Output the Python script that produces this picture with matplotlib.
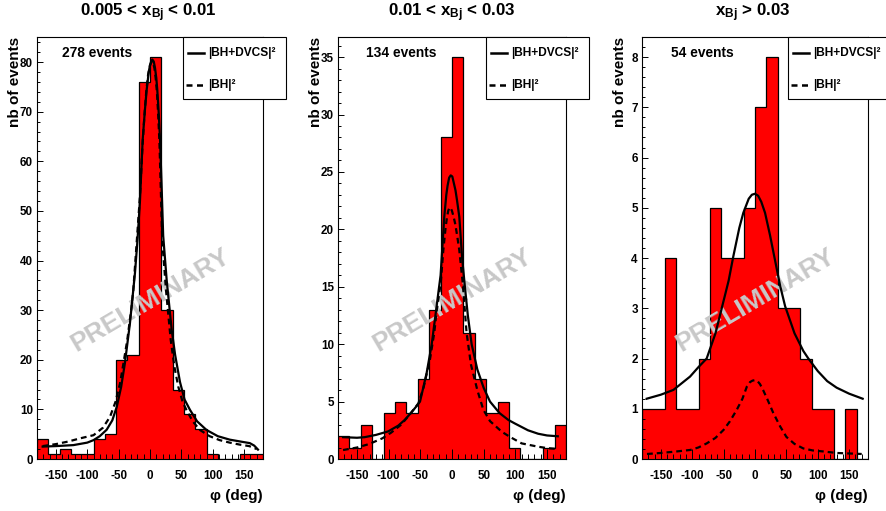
import numpy as np
import matplotlib
matplotlib.use("Agg")
import matplotlib.pyplot as plt
from matplotlib.patches import Rectangle
from matplotlib.lines import Line2D

plt.rcParams['font.family'] = ['Liberation Sans', 'DejaVu Sans']
plt.rcParams['font.weight'] = 'bold'
plt.rcParams['axes.unicode_minus'] = False
plt.rcParams['mathtext.fontset'] = 'custom'
plt.rcParams['mathtext.rm'] = 'Liberation Sans:bold'
plt.rcParams['mathtext.bf'] = 'Liberation Sans:bold'
plt.rcParams['mathtext.it'] = 'Liberation Sans:bold'

W, H = 887, 511

# 20 bins of 18 deg in phi
bin_edges = np.arange(-180, 181, 18)

titles = [r"0.005 < x$_{\mathrm{Bj}}$ < 0.01",
          r"0.01 < x$_{\mathrm{Bj}}$ < 0.03",
          r"x$_{\mathrm{Bj}}$ > 0.03"]
event_labels = ["278 events", "134 events", "54 events"]

counts_1 = [4, 1, 2, 1, 1, 4, 5, 20, 21, 76, 81, 30, 14, 9, 6, 1, 0, 0, 1, 1]
counts_2 = [2, 1, 3, 0, 4, 5, 4, 7, 13, 28, 35, 11, 7, 4, 5, 1, 0, 0, 1, 3]
counts_3 = [1, 1, 4, 1, 1, 2, 5, 4, 4, 5, 7, 8, 3, 3, 2, 1, 1, 0, 1, 0]

# |BH+DVCS|^2 and |BH|^2 curves (phi, value)
bhdvcs_phi_1 = [-171, -150, -122, -100, -90, -80, -69, -60, -53, -46, -40, -32, -24, -20, -16,
                -11.7, -8, -5.3, -2, 0, 2, 3.7, 6, 8, 10, 11.6, 14, 16, 18.5, 21, 26.6, 34.6, 40,
                47.8, 55, 63.7, 75, 90, 108, 127, 145, 159, 166, 172]
bhdvcs_val_1 = [2.5, 2.6, 2.8, 3.3, 3.8, 4.6, 5.9, 7.8, 10.5, 14.5, 19.3, 27.3, 37.4, 44, 52,
                64.3, 70.5, 74.4, 78, 79.4, 80.2, 80.5, 80.1, 78.8, 76.8, 74.4, 69.5, 64.3, 55, 45,
                36, 26, 21, 15.5, 12, 9.9, 7.6, 5.85, 4.6, 3.9, 3.5, 3.2, 2.7, 1.9]
bh_phi_1 = [-171, -150, -131, -110, -90, -75, -63.7, -55, -47.8, -42, -36.2, -30, -26.6, -21, -16,
            -12, -9, -6, -3, 0, 2, 3.5, 5, 7, 9, 11, 13, 15, 17.5, 19.5, 25.5, 33, 39, 45, 52,
            58, 68, 79.5, 95, 111, 127, 143, 158, 170]
bh_val_1 = [2.6, 3.0, 3.5, 4.2, 4.8, 6.3, 8.5, 11.5, 15.2, 19.5, 24, 30, 34, 44, 53,
            63, 69, 74, 77.5, 79.3, 79.9, 80.1, 79.8, 78.8, 76.8, 74, 69.5, 64, 53, 44, 34, 24, 18.5,
            14.6, 11.5, 9.9, 7.6, 5.85, 4.6, 3.8, 3.3, 2.9, 2.6, 2.0]

bhdvcs_phi_2 = [-172, -150, -138, -120, -101, -85, -74.7, -65, -56, -50.5, -45, -40, -32, -25,
                -18, -12.2, -9, -7, -4.5, -2, 0.5, 3, 5.5, 8, 11.5, 16, 20, 25, 31, 40, 50,
                60, 75, 89, 99, 120, 136, 150, 167]
bhdvcs_val_2 = [1.9, 1.85, 1.9, 2.1, 2.4, 2.9, 3.4, 4.0, 4.6, 5.0, 6.3, 7.5, 10, 13,
                16, 21.1, 23, 23.8, 24.5, 24.7, 24.6, 24, 23.4, 22.5, 21.1, 17.5, 15.2, 12.5, 10, 7.8, 6.2,
                5.0, 4.0, 3.4, 3.1, 2.5, 2.2, 2.05, 1.98]
bh_phi_2 = [-172, -150, -131, -110, -96, -80, -65, -53, -45, -35, -28, -24, -17.8, -13.7,
            -10, -8, -6, -4, -2, 0, 2.5, 5, 8, 11.5, 17, 23, 30, 40, 49.4, 60, 78.5, 91,
            110, 136, 150, 168]
bh_val_2 = [0.78, 1.0, 1.3, 1.8, 2.3, 3.0, 4.0, 4.85, 6.2, 8.6, 11, 13, 15.3, 18.2,
            20.2, 21, 21.6, 21.9, 21.85, 21.6, 21.1, 20.5, 19.5, 18.2, 15.3, 11, 8.2, 6.0, 4.3, 3.3, 2.38, 1.94,
            1.36, 1.07, 0.95, 0.87]

bhdvcs_phi_3 = [-172.5, -150, -130, -103.5, -90, -77, -63, -53, -42, -34.6, -25, -18.6, -10,
                -5, 0, 5, 10, 16, 24, 32, 40, 48, 63, 77, 85, 100, 115, 130, 150, 171.5]
bhdvcs_val_3 = [1.2, 1.28, 1.375, 1.64, 1.83, 2.0, 2.5, 3.0, 3.55, 4.03, 4.6, 4.9, 5.18,
                5.26, 5.28, 5.24, 5.12, 4.9, 4.45, 3.95, 3.45, 3.04, 2.5, 2.15, 2.0, 1.75, 1.55, 1.42, 1.3, 1.2]
bh_phi_3 = [-172, -150, -125, -103, -90, -77, -63, -50, -40, -29, -20, -13, -8, -4, 0, 4, 8,
            13, 20, 29, 40, 50, 63, 77, 92, 109, 130, 150, 170]
bh_val_3 = [0.1, 0.12, 0.15, 0.18, 0.23, 0.31, 0.42, 0.58, 0.75, 0.98, 1.2, 1.44, 1.53, 1.56,
            1.57, 1.55, 1.49, 1.37, 1.18, 0.92, 0.65, 0.44, 0.3, 0.21, 0.17, 0.15, 0.12, 0.11, 0.1]

panels = [
    dict(counts=counts_1, c1=(bhdvcs_phi_1, bhdvcs_val_1), c2=(bh_phi_1, bh_val_1),
         box=(37, 263), ymax=81 * 1.05, major=10, minor=2, title_x=148, ev_x=62),
    dict(counts=counts_2, c1=(bhdvcs_phi_2, bhdvcs_val_2), c2=(bh_phi_2, bh_val_2),
         box=(338, 566), ymax=35 * 1.05, major=5, minor=1, title_x=452, ev_x=366),
    dict(counts=counts_3, c1=(bhdvcs_phi_3, bhdvcs_val_3), c2=(bh_phi_3, bh_val_3),
         box=(642, 868), ymax=8 * 1.05, major=1, minor=0.2, title_x=753, ev_x=671),
]

top_px, bottom_px = 37, 459


def fx(px):
    return px / W


def fy(py):
    return 1 - py / H


fig = plt.figure(figsize=(W / 100, H / 100), dpi=100)
fig.patch.set_facecolor("white")

for i, p in enumerate(panels):
    x0, x1 = p["box"]
    ax = fig.add_axes([fx(x0), fy(bottom_px), (x1 - x0) / W, (bottom_px - top_px) / H])
    ax.stairs(p["counts"], bin_edges, fill=True, color="#ff0000", zorder=1)
    ax.stairs(p["counts"], bin_edges, color="black", lw=0.9, zorder=1.2)
    ax.plot(p["c1"][0], p["c1"][1], color="black", lw=1.6, zorder=4)
    ax.plot(p["c2"][0], p["c2"][1], color="black", lw=1.6, linestyle=(0, (2.6, 1.8)), zorder=4)

    ax.text(0.5, 0.377, "PRELIMINARY", transform=ax.transAxes, rotation=30.5,
            ha="center", va="center", fontsize=19, color="#c8c8c8",
            fontweight="bold", zorder=3, rotation_mode="anchor")

    ax.set_xlim(-180, 180)
    ax.set_ylim(0, p["ymax"])
    ax.set_xticks([-150, -100, -50, 0, 50, 100, 150])
    ax.set_xticks(np.arange(-170, 180, 10), minor=True)
    ax.set_yticks(np.arange(0, p["ymax"], p["major"]))
    ax.set_yticks(np.arange(0, p["ymax"], p["minor"]), minor=True)
    if p["major"] == 1:
        ax.set_yticklabels([str(int(v)) for v in np.arange(0, p["ymax"], 1)])
    ax.set_axisbelow(False)
    ax.tick_params(axis="x", which="major", direction="in", length=7.2, width=0.7,
                   labelsize=8.4, pad=8)
    ax.tick_params(axis="x", which="minor", direction="in", length=3.6, width=0.7)
    ax.tick_params(axis="y", which="major", direction="in", length=4.3, width=0.7,
                   labelsize=8.4, pad=3)
    ax.tick_params(axis="y", which="minor", direction="in", length=2.2, width=0.7)
    for lab in ax.get_xticklabels() + ax.get_yticklabels():
        lab.set_fontweight("bold")
    for s in ax.spines.values():
        s.set_linewidth(0.8)

    # title, axis labels, event count
    fig.text(fx(p["title_x"]), fy(16.5), titles[i], ha="center", va="baseline",
             fontsize=12.2, fontweight="bold")
    fig.text(fx(x0 - 17.5), fy(top_px), "nb of events", rotation=90, rotation_mode="anchor",
             ha="right", va="baseline", fontsize=11, fontweight="bold")
    fig.text(fx(x1), fy(500), "φ (deg)", ha="right", va="baseline",
             fontsize=11, fontweight="bold")
    fig.text(fx(p["ev_x"]), fy(53), event_labels[i], ha="left", va="center",
             fontsize=9.9, fontweight="bold")

    # legend box, partly outside the frame
    lx = x1 - 80
    lw_box = 103 if i < 2 else 120
    fig.add_artist(Rectangle((fx(lx), fy(99)), lw_box / W, 62 / H, transform=fig.transFigure,
                             facecolor="white", edgecolor="black", lw=0.8, zorder=5))
    fig.add_artist(Line2D([fx(lx + 5), fx(lx + 21)], [fy(53), fy(53)], transform=fig.transFigure,
                          color="black", lw=1.8, zorder=6))
    fig.add_artist(Line2D([fx(lx + 3), fx(lx + 21)], [fy(85), fy(85)], transform=fig.transFigure,
                          color="black", lw=1.8, linestyle=(0, (2.4, 1.8)), zorder=6))
    fig.text(fx(lx + 25), fy(53), "|BH+DVCS|²", ha="left", va="center",
             fontsize=8.6, fontweight="bold", zorder=6)
    fig.text(fx(lx + 25), fy(85), "|BH|²", ha="left", va="center",
             fontsize=8.6, fontweight="bold", zorder=6)

fig.savefig("out.png", dpi=100, facecolor="white")
